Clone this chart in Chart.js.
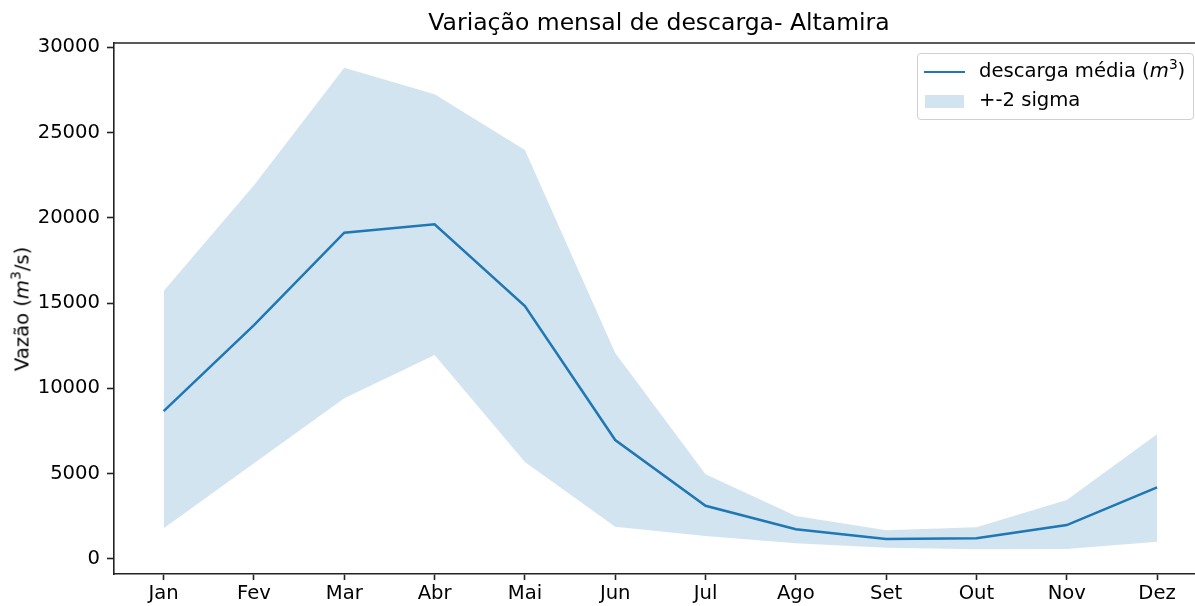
<!DOCTYPE html>
<html>
<head>
<meta charset="utf-8">
<script src="https://cdn.jsdelivr.net/npm/chart.js@4"></script>
<style>
  html, body { margin: 0; padding: 0; background: #fff; }
  #wrap { position: relative; width: 1195px; height: 606px; font-family: "DejaVu Sans", sans-serif; }
  #title {
    position: absolute; left: 659px; top: 8px; transform: translateX(-50%);
    font-size: 23.5px; line-height: 28px; white-space: nowrap; color: #000;
  }
  #yTitle {
    position: absolute; left: 22px; top: 309px; transform: translate(-50%, -50%) rotate(-90deg);
    font-size: 19.6px; white-space: nowrap; color: #000;
  }
  #legend {
    position: absolute; left: 917px; top: 53px; width: 275px; height: 65px;
    border: 1px solid #d0d0d0; border-radius: 4px; background: rgba(255,255,255,0.8);
    font-size: 19.6px; color: #000;
  }
  .row { position: absolute; left: 61px; white-space: nowrap; }
  .swLine { position: absolute; left: 6px; top: 17px; width: 41px; height: 0; border-top: 2.5px solid #1f77b4; }
  .swFill { position: absolute; left: 7px; top: 41px; width: 39px; height: 13px; background: rgba(31,119,180,0.2); }
  sup { font-size: 0.7em; vertical-align: 0.55em; line-height: 0; }
</style>
</head>
<body>
<div id="wrap">
  <canvas id="chart" width="1195" height="606"></canvas>
  <div id="title">Variação mensal de descarga- Altamira</div>
  <div id="yTitle">Vazão (<i>m</i><sup>3</sup>/s)</div>
  <div id="legend">
    <div class="swLine"></div>
    <div class="row" style="top: 5px;">descarga média (<i>m</i><sup>3</sup>)</div>
    <div class="swFill"></div>
    <div class="row" style="top: 34px;">+-2 sigma</div>
  </div>
</div>
<script>
const months = ['Jan', 'Fev', 'Mar', 'Abr', 'Mai', 'Jun', 'Jul', 'Ago', 'Set', 'Out', 'Nov', 'Dez'];
const meanFlow = [8670, 13710, 19120, 19610, 14820, 6970, 3120, 1740, 1170, 1210, 1990, 4200];
const upperFlow = [15700, 21910, 28790, 27230, 23970, 12070, 4960, 2520, 1680, 1860, 3460, 7310];
const lowerFlow = [1800, 5610, 9420, 11950, 5680, 1890, 1350, 920, 660, 570, 590, 1010];
const yTicks = [0, 5000, 10000, 15000, 20000, 25000, 30000];

const toPoints = arr => arr.map((v, i) => ({ x: i, y: v }));
const tickFont = { family: 'DejaVu Sans', size: 19.6 };

// matplotlib-style top spine
const topSpine = {
  id: 'topSpine',
  afterDraw(chart) {
    const a = chart.chartArea;
    const c = chart.ctx;
    c.save();
    c.strokeStyle = '#222';
    c.lineWidth = 1.6;
    c.beginPath();
    c.moveTo(a.left, a.top);
    c.lineTo(a.right, a.top);
    c.stroke();
    c.restore();
  }
};

new Chart(document.getElementById('chart').getContext('2d'), {
  type: 'line',
  data: {
    datasets: [
      {
        label: 'upper',
        data: toPoints(upperFlow),
        borderWidth: 0,
        pointRadius: 0,
        fill: '+1',
        backgroundColor: 'rgba(31,119,180,0.2)',
        tension: 0,
        order: 2
      },
      {
        label: 'lower',
        data: toPoints(lowerFlow),
        borderWidth: 0,
        pointRadius: 0,
        fill: false,
        tension: 0,
        order: 2
      },
      {
        label: 'descarga média',
        data: toPoints(meanFlow),
        borderColor: '#1f77b4',
        borderWidth: 2.5,
        pointRadius: 0,
        fill: false,
        tension: 0,
        order: 1
      }
    ]
  },
  options: {
    responsive: false,
    animation: false,
    layout: { padding: { left: 0, right: 0, top: 43, bottom: 0 } },
    plugins: {
      legend: { display: false },
      tooltip: { enabled: false },
      title: { display: false }
    },
    scales: {
      x: {
        type: 'linear',
        min: -0.55,
        max: 11.42,
        afterBuildTicks: s => { s.ticks = months.map((_, i) => ({ value: i })); },
        afterFit: s => { s.height = 32; },
        ticks: {
          color: '#000',
          font: tickFont,
          padding: 2,
          maxRotation: 0,
          autoSkip: false,
          callback: v => months[v]
        },
        grid: { drawOnChartArea: false, tickLength: 6, tickColor: '#222', tickWidth: 1.6 },
        border: { color: '#222', width: 1.6 }
      },
      y: {
        min: -880,
        max: 30240,
        afterBuildTicks: s => { s.ticks = yTicks.map(v => ({ value: v })); },
        afterFit: s => { s.width = 114; },
        ticks: { color: '#000', font: tickFont, padding: 7, callback: v => String(v) },
        grid: { drawOnChartArea: false, tickLength: 7, tickColor: '#222', tickWidth: 1.6 },
        border: { color: '#222', width: 1.6 }
      }
    }
  },
  plugins: [topSpine]
});
</script>
</body>
</html>
